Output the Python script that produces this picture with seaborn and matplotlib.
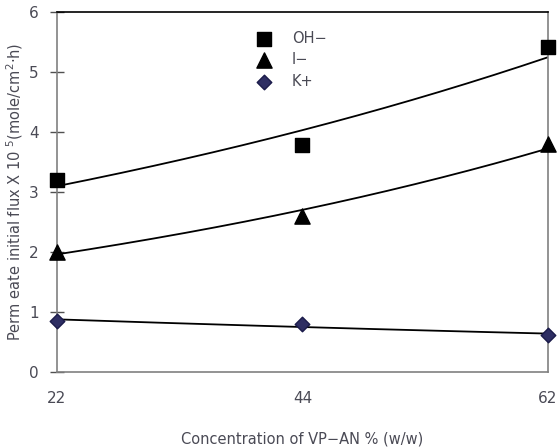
"""
Permeate initial flux of ions vs VP-AN concentration, with exponential trendlines.
"""

import matplotlib
matplotlib.use("Agg")
import matplotlib.pyplot as plt
import numpy as np
import seaborn as sns

CONCENTRATIONS = ["22", "44", "62"]
OH_FLUX = [3.2, 3.78, 5.42]
I_FLUX = [2.0, 2.6, 3.8]
K_FLUX = [0.85, 0.80, 0.62]

SERIES = [
    ("OH\u2212", OH_FLUX, "s", 110, "#000000", "#000000"),
    ("I\u2212", I_FLUX, "^", 120, "#000000", "#000000"),
    ("K+", K_FLUX, "D", 55, "#2E2E63", "#1A1A4A"),
]

sns.set_theme(style="white")
plt.rcParams["font.family"] = ["DejaVu Sans"]
TEXT_COLOR = "#4a4a55"


def exp_trend(values, xs):
    # Excel-style exponential trendline fitted on category index 1..n
    idx = np.arange(1, len(values) + 1)
    slope, intercept = np.polyfit(idx, np.log(values), 1)
    return np.exp(intercept + slope * (xs + 1))


def main() -> None:
    fig = plt.figure(figsize=(5.57, 4.48), dpi=100)
    ax = fig.add_axes([0.1023, 0.1696, 0.8815, 0.8034])

    x_idx = np.arange(len(CONCENTRATIONS))
    x_fine = np.linspace(0, len(CONCENTRATIONS) - 1, 200)

    for label, vals, marker, size, face, edge in SERIES:
        sns.lineplot(x=x_fine, y=exp_trend(vals, x_fine), color="black",
                     linewidth=1.3, legend=False, ax=ax, zorder=2)
        sns.scatterplot(x=x_idx, y=vals, marker=marker, s=size, color=face,
                        edgecolor=edge, linewidth=1.0, label=label,
                        clip_on=False, zorder=4, ax=ax)

    ax.set_xlim(0, len(CONCENTRATIONS) - 1)
    ax.set_ylim(0, 6)
    ax.set_xticks(x_idx)
    ax.set_xticklabels(CONCENTRATIONS)
    ax.set_yticks(range(0, 7))

    for side in ["left", "bottom", "right"]:
        ax.spines[side].set_color("#808080")
        ax.spines[side].set_linewidth(1.2)
    ax.spines["top"].set_color("black")
    ax.spines["top"].set_linewidth(1.2)

    ax.tick_params(axis="y", direction="inout", length=10, width=1,
                   color="#505050", labelsize=11, labelcolor=TEXT_COLOR, pad=8,
                   left=True)
    ax.tick_params(axis="x", direction="inout", length=0, labelsize=11,
                   labelcolor=TEXT_COLOR, pad=14, bottom=True)

    ax.set_xlabel("Concentration of VP\u2212AN % (w/w)", fontsize=10.5,
                  color=TEXT_COLOR, labelpad=18)
    ax.set_ylabel("Perm eate initial flux X 10 $^{5}$(mole/cm$^{2}$\u00b7h)",
                  fontsize=10.5, color=TEXT_COLOR, labelpad=3)

    leg = ax.legend(frameon=False, loc="upper left",
                    bbox_to_anchor=(0.38, 0.965), fontsize=10.5,
                    labelspacing=0.45, handletextpad=0.9, borderaxespad=0)
    for text in leg.get_texts():
        text.set_color(TEXT_COLOR)

    fig.savefig("out.png", dpi=100)
    plt.close(fig)


if __name__ == "__main__":
    main()
